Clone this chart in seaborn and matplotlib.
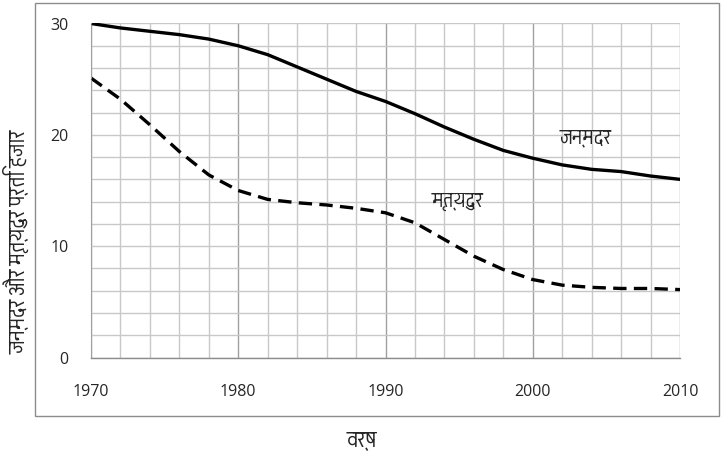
import numpy as np
import pandas as pd
import matplotlib
matplotlib.use("Agg")
import matplotlib.pyplot as plt
import matplotlib.font_manager as fm
from matplotlib.ft2font import FT2Font
from matplotlib.patches import Rectangle
from matplotlib.ticker import MultipleLocator
import seaborn as sns

YEARS = [1970, 1972, 1974, 1976, 1978, 1980, 1982, 1984, 1986, 1988, 1990,
         1992, 1994, 1996, 1998, 2000, 2002, 2004, 2006, 2008, 2010]
BIRTH_RATE = [30.0, 29.6, 29.3, 29.0, 28.6, 28.0, 27.2, 26.1, 25.0, 23.9, 23.0,
              21.9, 20.7, 19.6, 18.6, 17.9, 17.3, 16.9, 16.7, 16.3, 16.0]
DEATH_RATE = [25.1, 23.2, 20.9, 18.5, 16.4, 15.0, 14.2, 13.9, 13.7, 13.4, 13.0,
              12.1, 10.6, 9.1, 7.9, 7.0, 6.5, 6.3, 6.2, 6.2, 6.1]

BIRTH_LABEL = "जन्मदर"
DEATH_LABEL = "मृत्युदर"
X_LABEL = "वर्ष"
Y_LABEL = "जन्मदर और मृत्युदर प्रति हजार"
X_TICKS = [1970, 1980, 1990, 2000, 2010]
Y_TICKS = [0, 10, 20, 30]

WIDTH = 7.25
HEIGHT = 4.61


def find_devanagari_fonts():
    # installed fonts that cover Devanagari letters, bitmap-ish ones last
    found = []
    for path in fm.findSystemFonts():
        try:
            cmap = FT2Font(path).get_charmap()
        except Exception:
            continue
        if 0x0915 in cmap and 0x092E in cmap and 0x094D in cmap:
            name = fm.FontProperties(fname=path).get_name()
            if name not in found:
                found.append(name)
    found.sort(key=lambda n: ("unifont" in n.lower(), "mono" in n.lower(), n))
    return found


sns.set_style("white")
deva = find_devanagari_fonts()
plt.rcParams["font.family"] = ["Open Sans", "DejaVu Sans"]
deva_family = deva[:1] + ["DejaVu Sans"]

df = pd.DataFrame({
    "year": YEARS * 2,
    "rate": BIRTH_RATE + DEATH_RATE,
    "series": [BIRTH_LABEL] * len(YEARS) + [DEATH_LABEL] * len(YEARS),
})

fig = plt.figure(figsize=[WIDTH, HEIGHT], dpi=100)
# outer chart frame
fig.patches.append(Rectangle((35 / 725, 1 - 416 / 461), 684 / 725, 413 / 461,
                             transform=fig.transFigure, fill=False,
                             edgecolor="#8c8c8c", linewidth=1.0))
ax = fig.add_axes([91 / 725, 1 - 357.5 / 461, 589 / 725, 334 / 461])

sns.lineplot(data=df, x="year", y="rate", style="series",
             dashes={BIRTH_LABEL: "", DEATH_LABEL: (4, 2.2)},
             color="black", linewidth=2.4, legend=False, ax=ax)

ax.set_xlim(1970, 2010)
ax.set_ylim(0, 30)
ax.xaxis.set_minor_locator(MultipleLocator(2))
ax.yaxis.set_minor_locator(MultipleLocator(2))
ax.set_xticks(X_TICKS)
ax.set_yticks(Y_TICKS)
ax.grid(which="minor", color="#c8c8c8", linewidth=1.0)
ax.grid(which="major", axis="y", color="#c8c8c8", linewidth=1.0)
ax.grid(which="major", axis="x", color="#a0a0a0", linewidth=1.0)
ax.set_axisbelow(True)

for side in ["top", "right"]:
    ax.spines[side].set_visible(False)
ax.spines["left"].set_linestyle((0, (2, 1.5)))
ax.spines["left"].set_color("#a0a0a0")
ax.spines["left"].set_linewidth(0.8)
ax.spines["bottom"].set_color("#8c8c8c")
ax.spines["bottom"].set_linewidth(1.0)

ax.tick_params(axis="x", which="major", direction="out", length=6, width=1,
               color="#8c8c8c", pad=13, labelsize=11.5)
ax.tick_params(axis="x", which="minor", length=0)
ax.tick_params(axis="y", which="both", length=0, pad=16, labelsize=11.5)

ax.set_xlabel("")
ax.set_ylabel("")
fig.text(362 / 725, 1 - 440 / 461, X_LABEL, ha="center", va="center",
         fontsize=17.5, family=deva_family)
fig.text(16 / 725, 1 - 354 / 461, Y_LABEL, rotation=90, ha="center", va="bottom",
         fontsize=17, family=deva_family)

ax.text(2003.6, 19.8, BIRTH_LABEL, ha="center", va="center", fontsize=16,
        family=deva_family)
ax.text(1994.9, 14.1, DEATH_LABEL, ha="center", va="center", fontsize=16,
        family=deva_family)

fig.savefig("out.png", dpi=100)
